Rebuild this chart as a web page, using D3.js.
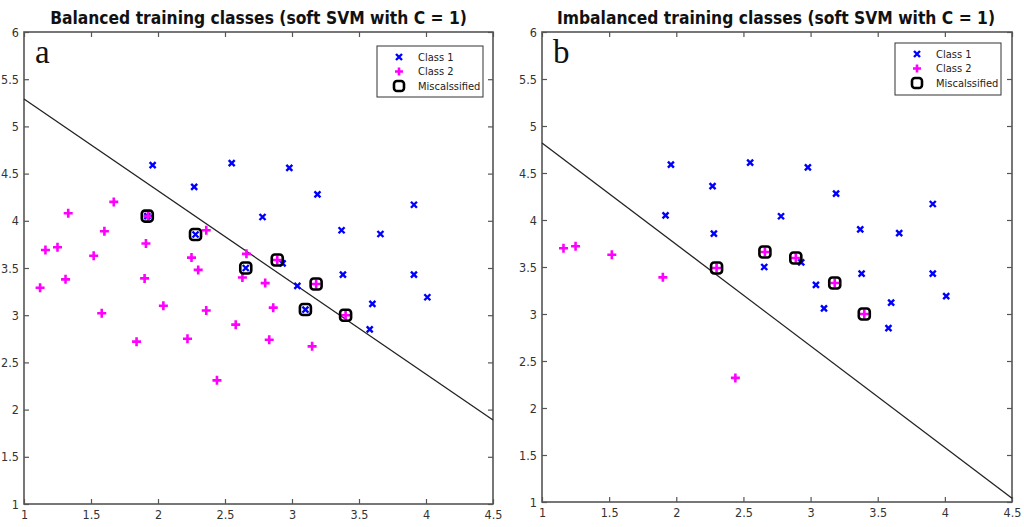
<!DOCTYPE html>
<html>
<head>
<meta charset="utf-8">
<script src="https://cdn.jsdelivr.net/npm/d3@7"></script>
<style>
  body { margin: 0; background: #fff; }
  svg { display: block; }
</style>
</head>
<body>
<script>
const width = 1024;
const height = 527;

// class 1 points (same in both panels)
const class1 = [
  [1.96, 4.59], [2.27, 4.36], [2.55, 4.61], [2.98, 4.56], [3.19, 4.28],
  [2.78, 4.04], [1.92, 4.05], [2.28, 3.855], [3.37, 3.90], [3.66, 3.86],
  [3.91, 4.17], [2.655, 3.50], [2.93, 3.55], [3.38, 3.43], [3.91, 3.43],
  [3.04, 3.31], [3.10, 3.06], [3.60, 3.12], [4.01, 3.19], [3.58, 2.85]
];

// class 2 points, balanced panel
const class2Balanced = [
  [1.67, 4.20], [1.33, 4.08], [1.16, 3.69], [1.25, 3.72], [1.60, 3.89],
  [1.52, 3.63], [1.91, 3.76], [1.31, 3.38], [1.12, 3.29], [1.90, 3.39],
  [1.58, 3.02], [2.04, 3.10], [1.84, 2.72], [2.22, 2.75], [2.36, 3.90],
  [2.25, 3.61], [2.30, 3.48], [2.36, 3.05], [2.58, 2.90], [2.44, 2.31],
  [2.63, 3.40], [2.66, 3.65], [2.80, 3.34], [2.86, 3.08], [2.83, 2.74],
  [3.15, 2.67], [1.925, 4.05], [2.89, 3.585], [3.18, 3.33], [3.40, 3.00]
];

// class 2 points, imbalanced panel
const class2Imbalanced = [
  [1.16, 3.70], [1.25, 3.72], [1.52, 3.63], [1.90, 3.39], [2.44, 2.32],
  [2.30, 3.49], [2.66, 3.66], [2.89, 3.595], [3.18, 3.33], [3.40, 3.00]
];

const missBalanced = [
  [1.92, 4.05], [2.28, 3.855], [2.655, 3.50], [2.89, 3.585], [3.18, 3.33],
  [3.10, 3.06], [3.40, 3.00]
];
const missImbalanced = [
  [2.30, 3.49], [2.66, 3.66], [2.89, 3.595], [3.18, 3.33], [3.40, 3.00]
];

// separating lines, as end points [x, y]
const lineBalanced = [[1, 5.29], [4.5, 1.89]];
const lineImbalanced = [[1, 4.82], [4.5, 1.04]];

const xTicks = [1, 1.5, 2, 2.5, 3, 3.5, 4, 4.5];
const yTicks = [1, 1.5, 2, 2.5, 3, 3.5, 4, 4.5, 5, 5.5, 6];
const legendLabels = ["Class 1", "Class 2", "Miscalssified"];

const blue = "#0000ff";
const magenta = "#ff00ff";
const axisColor = "#555";
const tickFont = "DejaVu Sans Condensed, DejaVu Sans, sans-serif";

const svg = d3.select("body").append("svg")
  .attr("width", width)
  .attr("height", height);

function cross(g, size) {
  const s = size / 2;
  g.append("path")
    .attr("d", `M${-s},${-s}L${s},${s}M${-s},${s}L${s},${-s}`)
    .attr("stroke", blue).attr("stroke-width", 2.4).attr("fill", "none");
}

function plus(g, size) {
  const s = size / 2;
  g.append("path")
    .attr("d", `M${-s},0L${s},0M0,${-s}L0,${s}`)
    .attr("stroke", magenta).attr("stroke-width", 2.6).attr("fill", "none");
}

function box(g, size) {
  const s = size / 2;
  g.append("rect")
    .attr("x", -s).attr("y", -s).attr("width", size).attr("height", size)
    .attr("rx", 3)
    .attr("fill", "none").attr("stroke", "#000").attr("stroke-width", 2.6);
}

function drawPanel(cfg) {
  const x = d3.scaleLinear().domain([1, 4.5]).range([cfg.left, cfg.right]);
  const y = d3.scaleLinear().domain([1, 6]).range([cfg.bottom, cfg.top]);
  const g = svg.append("g");

  // axes with inward ticks on all four sides
  g.append("g")
    .attr("transform", `translate(0,${cfg.bottom})`)
    .call(d3.axisBottom(x).tickValues(xTicks).tickFormat(d3.format("")).tickSizeInner(-5).tickSizeOuter(0).tickPadding(6));
  g.append("g")
    .attr("transform", `translate(${cfg.left},0)`)
    .call(d3.axisLeft(y).tickValues(yTicks).tickFormat(d3.format("")).tickSizeInner(-5).tickSizeOuter(0).tickPadding(5));
  g.append("g")
    .attr("transform", `translate(0,${cfg.top})`)
    .call(d3.axisTop(x).tickValues(xTicks).tickFormat("").tickSizeInner(-5).tickSizeOuter(0));
  g.append("g")
    .attr("transform", `translate(${cfg.right},0)`)
    .call(d3.axisRight(y).tickValues(yTicks).tickFormat("").tickSizeInner(-5).tickSizeOuter(0));

  g.selectAll(".domain").remove();
  g.selectAll(".tick line").attr("stroke", axisColor).attr("stroke-width", 1.2);
  g.selectAll(".tick text")
    .attr("fill", "#333")
    .style("font-family", tickFont)
    .style("font-size", "12.5px");

  g.append("rect")
    .attr("x", cfg.left).attr("y", cfg.top)
    .attr("width", cfg.right - cfg.left).attr("height", cfg.bottom - cfg.top)
    .attr("fill", "none").attr("stroke", axisColor).attr("stroke-width", 1.6);

  // title
  g.append("text")
    .attr("x", (cfg.left + cfg.right) / 2 + cfg.titleShift)
    .attr("y", 24)
    .attr("text-anchor", "middle")
    .style("font-family", "DejaVu Sans Condensed, DejaVu Sans, sans-serif")
    .style("font-weight", "bold")
    .style("font-size", "17.3px")
    .attr("fill", "#111")
    .text(cfg.title);

  // panel letter
  g.append("text")
    .attr("x", cfg.left + 11)
    .attr("y", 63)
    .style("font-family", "Liberation Serif, DejaVu Serif, serif")
    .style("font-size", "33px")
    .attr("fill", "#111")
    .text(cfg.letter);

  // separating line
  g.append("line")
    .attr("x1", x(cfg.line[0][0])).attr("y1", y(cfg.line[0][1]))
    .attr("x2", x(cfg.line[1][0])).attr("y2", y(cfg.line[1][1]))
    .attr("stroke", "#222").attr("stroke-width", 1.3);

  // points
  g.selectAll(".c1").data(class1).enter().append("g")
    .attr("class", "c1")
    .attr("transform", (d) => `translate(${x(d[0])},${y(d[1])})`)
    .each(function () { cross(d3.select(this), 6); });

  g.selectAll(".c2").data(cfg.class2).enter().append("g")
    .attr("class", "c2")
    .attr("transform", (d) => `translate(${x(d[0])},${y(d[1])})`)
    .each(function () { plus(d3.select(this), 9); });

  g.selectAll(".miss").data(cfg.miss).enter().append("g")
    .attr("class", "miss")
    .attr("transform", (d) => `translate(${x(d[0])},${y(d[1])})`)
    .each(function () { box(d3.select(this), 11); });

  // legend
  const lg = g.append("g");
  lg.append("rect")
    .attr("x", cfg.legend.x).attr("y", cfg.legend.y)
    .attr("width", cfg.legend.w).attr("height", cfg.legend.h)
    .attr("fill", "#fff").attr("stroke", "#333").attr("stroke-width", 1);
  const markers = [cross, plus, box];
  const sizes = [6, 8, 10];
  legendLabels.forEach((label, i) => {
    const rowY = cfg.legend.y + 11 + i * 14.5;
    const m = lg.append("g").attr("transform", `translate(${cfg.legend.x + 22},${rowY})`);
    markers[i](m, sizes[i]);
    lg.append("text")
      .attr("x", cfg.legend.x + 41)
      .attr("y", rowY)
      .attr("dy", "0.35em")
      .style("font-family", tickFont)
      .style("font-size", "11px")
      .attr("fill", "#222")
      .text(label);
  });
}

drawPanel({
  left: 24, right: 493, top: 32, bottom: 504,
  title: "Balanced training classes (soft SVM with C = 1)", titleShift: 0,
  letter: "a",
  line: lineBalanced,
  class2: class2Balanced,
  miss: missBalanced,
  legend: { x: 377, y: 46, w: 106, h: 51 }
});

drawPanel({
  left: 542, right: 1012, top: 32, bottom: 502,
  title: "Imbalanced training classes (soft SVM with C = 1)", titleShift: -1,
  letter: "b",
  line: lineImbalanced,
  class2: class2Imbalanced,
  miss: missImbalanced,
  legend: { x: 895, y: 43, w: 106, h: 52 }
});
</script>
</body>
</html>
